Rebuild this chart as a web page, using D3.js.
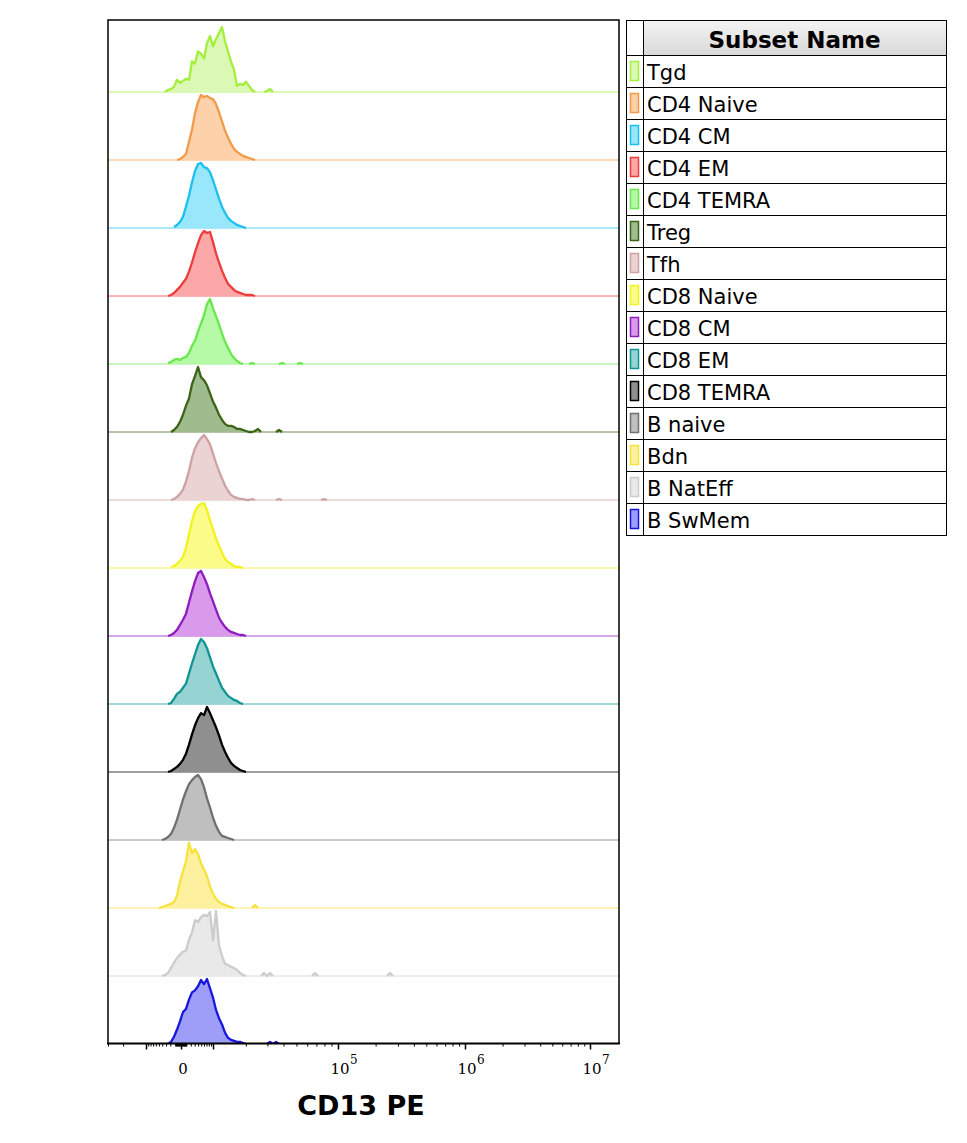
<!DOCTYPE html>
<html>
<head>
<meta charset="utf-8">
<script src="https://cdnjs.cloudflare.com/ajax/libs/d3/7.8.5/d3.min.js"></script>
<style>
  body { margin: 0; background: #fff; }
  svg { display: block; }
</style>
</head>
<body>
<div id="chart"></div>
<script>
// subsets, top row first
var subsetNames = ['Tgd', 'CD4 Naive', 'CD4 CM', 'CD4 EM', 'CD4 TEMRA', 'Treg', 'Tfh',
    'CD8 Naive', 'CD8 CM', 'CD8 EM', 'CD8 TEMRA', 'B naive', 'Bdn', 'B NatEff', 'B SwMem'];

// first bin (display channel) of every histogram
var startChannel = [19, 23, 22, 20, 20, 21, 21, 21, 20, 20, 20, 18, 17, 18, 20];

// event counts per display channel
var tgdCounts = [0, 2, 3, 5, 12, 9, 11, 13, 12, 30, 28, 40, 38, 33, 48, 55, 45, 52, 58, 64, 50, 40, 30, 22, 6, 8, 7, 10, 6, 2, 0, 0, 0, 0, 1, 3, 0];
var cd4NaiveCounts = [0, 1, 3, 6, 18, 30, 46, 57, 64, 62, 63, 61, 60, 55, 47, 38, 29, 22, 16, 11, 8, 6, 4, 3, 2, 1, 0];
var cd4CmCounts = [1, 3, 6, 11, 21, 32, 45, 56, 63, 64, 60, 59, 55, 47, 38, 29, 21, 15, 10, 7, 5, 3, 2, 1, 0];
var cd4EmCounts = [0, 1, 3, 6, 9, 13, 17, 24, 33, 43, 52, 60, 64, 62, 63, 53, 42, 33, 25, 18, 12, 9, 6, 4, 3, 2, 1, 1, 1, 0];
var cd4TemraCounts = [1, 2, 4, 5, 4, 6, 7, 11, 18, 23, 32, 40, 48, 59, 64, 55, 47, 39, 30, 22, 16, 10, 6, 3, 1, 0, 0, 0, 1, 0, 0, 0, 0, 0, 0, 0, 0, 0, 1, 0, 0, 0, 0, 0, 1, 0];
var tregCounts = [0, 2, 5, 10, 17, 26, 33, 47, 55, 64, 54, 51, 46, 38, 30, 24, 17, 12, 8, 6, 6, 5, 3, 3, 2, 1, 0, 0, 1, 3, 0, 0, 0, 0, 0, 0, 2, 0];
var tfhCounts = [0, 1, 3, 6, 10, 18, 28, 41, 50, 56, 60, 63, 59, 54, 45, 36, 28, 21, 14, 9, 5, 3, 2, 1, 1, 0, 0, 1, 0, 0, 0, 0, 0, 0, 0, 0, 1, 0, 0, 0, 0, 0, 0, 0, 0, 0, 0, 0, 0, 0, 0, 1, 0];
var cd8NaiveCounts = [1, 2, 4, 7, 11, 20, 33, 46, 56, 61, 63, 64, 57, 47, 38, 29, 22, 15, 9, 6, 4, 2, 1, 1, 0];
var cd8CmCounts = [0, 1, 3, 6, 11, 16, 22, 33, 44, 54, 62, 64, 58, 51, 42, 34, 26, 18, 13, 9, 6, 4, 3, 2, 1, 1, 0];
var cd8EmCounts = [0, 1, 5, 10, 12, 16, 20, 30, 40, 49, 58, 64, 61, 55, 46, 37, 30, 23, 16, 12, 8, 6, 4, 3, 1, 0];
var cd8TemraCounts = [0, 1, 3, 5, 8, 12, 18, 27, 37, 46, 53, 58, 56, 64, 58, 51, 44, 36, 27, 20, 14, 9, 6, 4, 2, 1, 0];
var bNaiveCounts = [0, 1, 3, 6, 12, 20, 30, 40, 48, 55, 59, 62, 64, 60, 52, 41, 32, 22, 14, 8, 4, 3, 2, 1, 0];
var bdnCounts = [0, 1, 2, 3, 4, 6, 12, 26, 36, 46, 64, 54, 58, 53, 44, 38, 31, 21, 14, 9, 6, 4, 3, 2, 1, 0, 0, 0, 0, 0, 0, 0, 3, 0];
var bNatEffCounts = [0, 1, 3, 8, 13, 18, 21, 24, 25, 36, 43, 55, 53, 58, 60, 59, 63, 35, 64, 30, 20, 12, 11, 9, 8, 6, 3, 1, 0, 0, 0, 0, 0, 0, 3, 0, 3, 0, 0, 0, 0, 0, 0, 0, 0, 0, 0, 0, 0, 0, 0, 3, 0, 0, 0, 0, 0, 0, 0, 0, 0, 0, 0, 0, 0, 0, 0, 0, 0, 0, 0, 0, 0, 0, 0, 0, 3, 0];
var bSwMemCounts = [0, 2, 7, 14, 22, 31, 34, 43, 50, 52, 56, 62, 58, 63, 54, 45, 33, 25, 19, 11, 6, 4, 3, 2, 2, 1, 0, 0, 0, 0, 0, 0, 0, 0, 2, 0, 2, 0];

var countSeries = [tgdCounts, cd4NaiveCounts, cd4CmCounts, cd4EmCounts, cd4TemraCounts, tregCounts, tfhCounts,
    cd8NaiveCounts, cd8CmCounts, cd8EmCounts, cd8TemraCounts, bNaiveCounts, bdnCounts, bNatEffCounts, bSwMemCounts];

// CD13 PE axis
var axisBreaks = [-3e4, -1e4, 0, 1e4, 1e5, 1e6, 1e7];
var majorTicks = [-1e4, 0, 1e4, 1e5, 1e6, 1e7];
var labelTicks = [0, 1e5, 1e6, 1e7];
var labelBase = ['0', '10', '10', '10'];
var labelExp = ['', '5', '6', '7'];
var axisTitle = 'CD13 PE';
var legendTitle = 'Subset Name';

var strokeColors = ['#a4ee3c', '#f29a48', '#1cc0ee', '#ec3c3c', '#68e84c', '#3c6416', '#cca2a2', '#f2f21e',
    '#8e1cbe', '#109494', '#000000', '#707070', '#f6e23c', '#cccccc', '#1616dc'];
var fillColors = ['#dbf9b4', '#fdd2aa', '#98e7fb', '#fca8a8', '#b6f9a6', '#9fbc8e', '#ebd3d3', '#fbfb8a',
    '#d99aec', '#96d3d3', '#8f8f8f', '#bfbfbf', '#fdf19f', '#e9e9e9', '#9e9ef9'];

var width = 967, height = 1143;
var plot = {left: 108, right: 619, top: 20, bottom: 1043.5};
var peakHeight = 65;

var svg = d3.select('#chart').append('svg')
    .attr('width', width)
    .attr('height', height)
    .attr('viewBox', '0 0 ' + width + ' ' + height);

svg.append('rect')
    .attr('width', width)
    .attr('height', height)
    .attr('fill', '#fff');

// logicle-ish display: symlog, pinned at the decade breaks
var x = d3.scaleSymlog().constant(5000)
    .domain(axisBreaks)
    .range([108, 146, 181, 213, 338, 465, 590]);

// histograms are binned in display channels, 3 px each
var xChannel = d3.scaleLinear()
    .domain([0, (plot.right - plot.left) / 3])
    .range([plot.left, plot.right]);

var yRow = d3.scalePoint()
    .domain(subsetNames)
    .range([92, 1044]);

svg.append('clipPath').attr('id', 'plot-clip')
    .append('rect')
    .attr('x', plot.left)
    .attr('y', plot.top)
    .attr('width', plot.right - plot.left)
    .attr('height', plot.bottom - plot.top);

var plotGroup = svg.append('g').attr('clip-path', 'url(#plot-clip)');

subsetNames.forEach(function(name, i) {
    var counts = countSeries[i],
        base = yRow(name),
        y = d3.scaleLinear().domain([0, d3.max(counts)]).range([base, base - peakHeight]);

    var bins = counts.map(function(c, j) {
        return {
            ch: startChannel[i] + j,
            count: c,
            // keep a zero bin only where it touches a filled one
            live: c > 0 || counts[j - 1] > 0 || counts[j + 1] > 0
        };
    });

    // zero line across the whole plot
    plotGroup.append('line')
        .attr('x1', plot.left)
        .attr('x2', plot.right)
        .attr('y1', base)
        .attr('y2', base)
        .attr('stroke', strokeColors[i])
        .attr('stroke-opacity', 0.75)
        .attr('stroke-width', 1);

    plotGroup.append('path')
        .datum(bins)
        .attr('d', d3.area()
            .defined(function(d) { return d.live; })
            .x(function(d) { return xChannel(d.ch); })
            .y0(base)
            .y1(function(d) { return y(d.count); }))
        .attr('fill', fillColors[i]);

    plotGroup.append('path')
        .datum(bins)
        .attr('d', d3.line()
            .defined(function(d) { return d.live; })
            .x(function(d) { return xChannel(d.ch); })
            .y(function(d) { return y(d.count); }))
        .attr('fill', 'none')
        .attr('stroke', strokeColors[i])
        .attr('stroke-width', 2.3)
        .attr('stroke-linejoin', 'round');
});

// frame
svg.append('path')
    .attr('d', 'M' + plot.left + ',' + plot.bottom + 'V' + plot.top + 'H' + plot.right + 'V' + plot.bottom)
    .attr('fill', 'none')
    .attr('stroke', '#000')
    .attr('stroke-width', 1.5);

// axis ticks
var minorTicks = [-3e4, -2e4];
[100, 1000].forEach(function(step) {
    d3.range(1, 10).forEach(function(k) {
        minorTicks.push(-k * step, k * step);
    });
});
[1e4, 1e5, 1e6].forEach(function(dec) {
    d3.range(2, 10).forEach(function(k) { minorTicks.push(k * dec); });
});

var axisGroup = svg.append('g')
    .attr('transform', 'translate(0,' + plot.bottom + ')');

axisGroup.append('g')
    .call(d3.axisBottom(x).tickValues(minorTicks).tickSize(3).tickFormat(''))
    .call(function(g) { g.select('.domain').remove(); });

axisGroup.append('g')
    .call(d3.axisBottom(x).tickValues(majorTicks).tickSize(6).tickFormat(''))
    .call(function(g) { g.select('.domain').remove(); })
    .selectAll('line').attr('stroke-width', 1.5);

axisGroup.append('line')
    .attr('x1', plot.left - 1)
    .attr('x2', plot.right + 1)
    .attr('stroke', '#000')
    .attr('stroke-width', 2);

labelTicks.forEach(function(v, i) {
    axisGroup.append('text')
        .attr('x', x(v) + 2)
        .attr('y', 30)
        .attr('text-anchor', 'middle')
        .attr('font-family', 'DejaVu Serif, serif')
        .attr('font-size', 15)
        .text(labelBase[i]);
    if (labelExp[i]) {
        axisGroup.append('text')
            .attr('x', x(v) + 12)
            .attr('y', 20)
            .attr('font-family', 'DejaVu Serif, serif')
            .attr('font-size', 12)
            .text(labelExp[i]);
    }
});

svg.append('text')
    .attr('x', 361)
    .attr('y', 1115)
    .attr('text-anchor', 'middle')
    .attr('font-family', 'DejaVu Sans, sans-serif')
    .attr('font-weight', 'bold')
    .attr('font-size', 27)
    .text(axisTitle);

// legend table
var lg = {left: 626, swatch: 643, right: 946, top: 20, head: 35, row: 32};
var legendBottom = lg.top + lg.head + lg.row * subsetNames.length;

var grad = svg.append('defs').append('linearGradient')
    .attr('id', 'head-grad')
    .attr('x1', 0).attr('y1', 0).attr('x2', 0).attr('y2', 1);
grad.append('stop').attr('offset', '0%').attr('stop-color', '#f4f4f4');
grad.append('stop').attr('offset', '100%').attr('stop-color', '#d9d9d9');

var legend = svg.append('g');

legend.append('rect')
    .attr('x', lg.swatch)
    .attr('y', lg.top)
    .attr('width', lg.right - lg.swatch)
    .attr('height', lg.head)
    .attr('fill', 'url(#head-grad)');

legend.append('text')
    .attr('x', (lg.swatch + lg.right) / 2)
    .attr('y', lg.top + 28)
    .attr('text-anchor', 'middle')
    .attr('font-family', 'DejaVu Sans, sans-serif')
    .attr('font-weight', 'bold')
    .attr('font-size', 23)
    .text(legendTitle);

var rows = legend.selectAll('g.row')
    .data(subsetNames)
    .enter().append('g')
    .attr('class', 'row')
    .attr('transform', function(d, i) {
        return 'translate(0,' + (lg.top + lg.head + i * lg.row) + ')';
    });

rows.append('rect')
    .attr('x', lg.left + 4.5)
    .attr('y', 6.5)
    .attr('width', 8)
    .attr('height', 19)
    .attr('fill', function(d, i) { return fillColors[i]; })
    .attr('stroke', function(d, i) { return strokeColors[i]; })
    .attr('stroke-width', 1.5);

rows.append('text')
    .attr('x', lg.swatch + 4)
    .attr('y', 25)
    .attr('font-family', 'DejaVu Sans, sans-serif')
    .attr('font-size', 21)
    .text(function(d) { return d; });

rows.append('line')
    .attr('x1', lg.left)
    .attr('x2', lg.right)
    .attr('y1', 0.5)
    .attr('y2', 0.5)
    .attr('stroke', '#000');

legend.append('line')
    .attr('x1', lg.swatch + 0.5)
    .attr('x2', lg.swatch + 0.5)
    .attr('y1', lg.top)
    .attr('y2', legendBottom)
    .attr('stroke', '#000');

legend.append('rect')
    .attr('x', lg.left + 0.5)
    .attr('y', lg.top + 0.5)
    .attr('width', lg.right - lg.left)
    .attr('height', legendBottom - lg.top)
    .attr('fill', 'none')
    .attr('stroke', '#000');
</script>
</body>
</html>
